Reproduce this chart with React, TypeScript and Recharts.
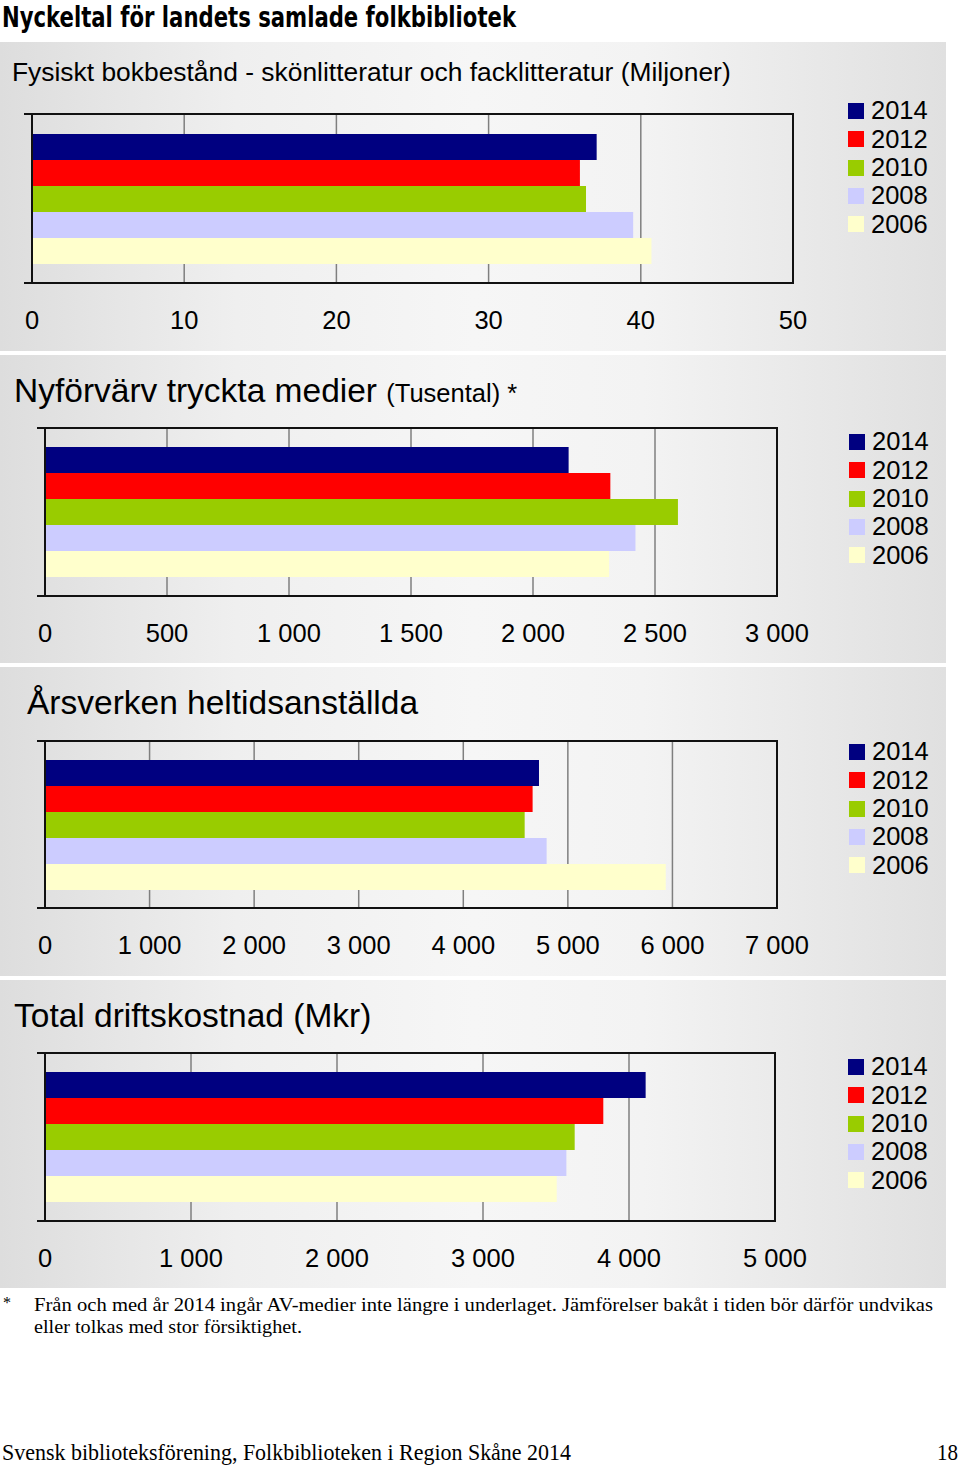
import React from 'react';
import { BarChart, Bar, XAxis, YAxis, CartesianGrid, ReferenceArea } from 'recharts';

const SANS = '"Liberation Sans", Arial, Helvetica, sans-serif';
const SERIF = '"Liberation Serif", "DejaVu Serif", serif';

// series, top to bottom in every panel
const years = ['2014', '2012', '2010', '2008', '2006'];
const colors = ['#000080', '#ff0000', '#99cc00', '#ccccff', '#ffffcc'];

// values
const bokbestand = [37.1, 36.0, 36.4, 39.5, 40.7];
const nyforvarv = [2146, 2317, 2594, 2420, 2312];
const arsverken = [4724, 4663, 4587, 4797, 5936];
const driftskostnad = [4114, 3824, 3628, 3571, 3505];

const ticksBok = [0, 10, 20, 30, 40, 50];
const ticksNyf = [0, 500, 1000, 1500, 2000, 2500, 3000];
const ticksArs = [0, 1000, 2000, 3000, 4000, 5000, 6000, 7000];
const ticksDrift = [0, 1000, 2000, 3000, 4000, 5000];

const fmt = (v: number) => String(v).replace(/\B(?=(\d{3})+(?!\d))/g, ' ');

const PANEL_BG =
  'linear-gradient(90deg, #dddddd 0%, #efefef 25%, #f6f6f6 50%, #f3f3f3 68%, #e0e0e0 100%)';

interface PanelProps {
  top: number;
  height: number;
  title: React.ReactNode;
  titleLeft: number;
  titleTop: number;
  values: number[];
  ticks: number[];
  plotTop: number;
  plotBottom: number;
  plotLeft: number;
  plotRight: number;
  legendLeft: number;
  legendTop: number;
}

function Panel(p: PanelProps) {
  const row: Record<string, number | string> = { name: 'all' };
  years.forEach((y, i) => {
    row['y' + y] = p.values[i];
  });
  const data = [row];
  const max = p.ticks[p.ticks.length - 1];
  const marginTop = 10;
  const marginRight = 50;
  const axisH = 50;
  const yW = 20;
  const plotH = p.plotBottom - p.plotTop;
  const width = p.plotRight + marginRight;
  const height = marginTop + plotH + axisH;

  // Excel-style category marks at the top and bottom of the value range
  const edgeTicks = (props: any) => {
    const half = props.payload?.offset ?? plotH / 2;
    const x0 = p.plotLeft;
    return (
      <g>
        <line x1={x0 - 8} x2={x0} y1={props.y - half} y2={props.y - half} stroke="#111" strokeWidth={2} />
        <line x1={x0 - 8} x2={x0} y1={props.y + half} y2={props.y + half} stroke="#111" strokeWidth={2} />
      </g>
    );
  };

  return (
    <div
      style={{
        position: 'absolute',
        left: 0,
        top: p.top,
        width: 946,
        height: p.height,
        background: PANEL_BG,
        fontFamily: SANS,
      }}
    >
      <div
        style={{
          position: 'absolute',
          left: p.titleLeft,
          top: p.titleTop,
          lineHeight: 1,
          whiteSpace: 'nowrap',
          color: '#000',
        }}
      >
        {p.title}
      </div>
      <div style={{ position: 'absolute', left: 0, top: p.plotTop - p.top - marginTop }}>
        <BarChart
          width={width}
          height={height}
          data={data}
          layout="vertical"
          margin={{ top: marginTop, right: marginRight, bottom: 0, left: p.plotLeft - yW }}
          barGap={0}
          barSize={26}
        >
          <CartesianGrid horizontal={false} stroke="#7f7f7f" strokeWidth={1.5} />
          <XAxis
            type="number"
            domain={[0, max]}
            ticks={p.ticks}
            interval={0}
            tickFormatter={fmt}
            axisLine={false}
            tickLine={false}
            tickSize={0}
            tickMargin={28}
            height={axisH}
            tick={{ fill: '#000', fontSize: 25.5, fontFamily: SANS }}
          />
          <YAxis
            type="category"
            dataKey="name"
            width={yW}
            axisLine={{ stroke: '#111', strokeWidth: 2 }}
            tickLine={false}
            tick={edgeTicks}
          />
          {years.map((y, i) => (
            <Bar key={y} dataKey={'y' + y} name={y} fill={colors[i]} isAnimationActive={false} />
          ))}
          <ReferenceArea
            x1={0}
            x2={max}
            fill="none"
            fillOpacity={0}
            stroke="#111"
            strokeWidth={2}
            ifOverflow="visible"
          />
        </BarChart>
      </div>
      <div style={{ position: 'absolute', left: p.legendLeft, top: p.legendTop }}>
        {years.map((y, i) => (
          <div key={y} style={{ display: 'flex', alignItems: 'center', height: 28.3 }}>
            <div style={{ width: 16, height: 16, background: colors[i], marginRight: 7 }} />
            <span style={{ fontSize: 25.5, lineHeight: 1, color: '#000' }}>{y}</span>
          </div>
        ))}
      </div>
    </div>
  );
}

export default function App() {
  return (
    <div
      style={{
        position: 'absolute',
        left: 0,
        top: 0,
        width: 960,
        height: 1465,
        background: '#fff',
        overflow: 'hidden',
      }}
    >
      <svg width={960} height={1465} style={{ position: 'absolute', left: 0, top: 0 }}>
        <text
          x={2}
          y={27}
          textLength={514}
          lengthAdjust="spacingAndGlyphs"
          fontFamily='"Liberation Sans Narrow", "DejaVu Sans Condensed", sans-serif'
          fontWeight="bold"
          fontSize={28}
          fill="#000"
        >
          Nyckeltal för landets samlade folkbibliotek
        </text>
        <text x={3} y={1308} fontFamily={SERIF} fontSize={16} fill="#000">
          *
        </text>
        <text x={34} y={1311} textLength={899} lengthAdjust="spacingAndGlyphs" fontFamily={SERIF} fontSize={18} fill="#000">
          Från och med år 2014 ingår AV-medier inte längre  i underlaget. Jämförelser bakåt i tiden bör därför undvikas
        </text>
        <text x={34} y={1333} textLength={268} lengthAdjust="spacingAndGlyphs" fontFamily={SERIF} fontSize={18} fill="#000">
          eller tolkas med stor försiktighet.
        </text>
        <text x={2} y={1460} textLength={569} lengthAdjust="spacingAndGlyphs" fontFamily={SERIF} fontSize={24} fill="#000">
          Svensk biblioteksförening, Folkbiblioteken i Region Skåne 2014
        </text>
        <text x={937} y={1460} textLength={21} lengthAdjust="spacingAndGlyphs" fontFamily={SERIF} fontSize={24} fill="#000">
          18
        </text>
      </svg>

      <Panel
        top={42}
        height={309}
        title={<span style={{ fontSize: 26.4 }}>Fysiskt bokbestånd - skönlitteratur och facklitteratur (Miljoner)</span>}
        titleLeft={12}
        titleTop={17}
        values={bokbestand}
        ticks={ticksBok}
        plotTop={114}
        plotBottom={283}
        plotLeft={32}
        plotRight={793}
        legendLeft={848}
        legendTop={55}
      />
      <Panel
        top={355}
        height={308}
        title={
          <span>
            <span style={{ fontSize: 33.5 }}>Nyförvärv tryckta medier </span>
            <span style={{ fontSize: 25.5 }}>(Tusental) *</span>
          </span>
        }
        titleLeft={14}
        titleTop={19}
        values={nyforvarv}
        ticks={ticksNyf}
        plotTop={428}
        plotBottom={596}
        plotLeft={45}
        plotRight={777}
        legendLeft={849}
        legendTop={73}
      />
      <Panel
        top={667}
        height={309}
        title={<span style={{ fontSize: 33.5 }}>Årsverken heltidsanställda</span>}
        titleLeft={27}
        titleTop={19}
        values={arsverken}
        ticks={ticksArs}
        plotTop={741}
        plotBottom={908}
        plotLeft={45}
        plotRight={777}
        legendLeft={849}
        legendTop={71}
      />
      <Panel
        top={980}
        height={308}
        title={<span style={{ fontSize: 33.5 }}>Total driftskostnad (Mkr)</span>}
        titleLeft={14}
        titleTop={19}
        values={driftskostnad}
        ticks={ticksDrift}
        plotTop={1053}
        plotBottom={1221}
        plotLeft={45}
        plotRight={775}
        legendLeft={848}
        legendTop={73}
      />
    </div>
  );
}
